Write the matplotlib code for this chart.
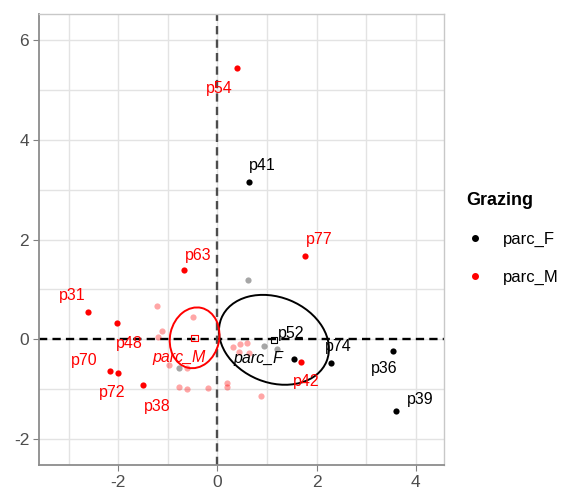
import numpy as np
import matplotlib
matplotlib.use('Agg')
import matplotlib.pyplot as plt
from matplotlib.patches import Ellipse
from matplotlib.lines import Line2D

plt.rcParams['font.family'] = ['Liberation Sans', 'DejaVu Sans']
plt.rcParams['axes.unicode_minus'] = False

# ========== data ==========
groups = ['parc_F', 'parc_M']
colors = {'parc_F': 'black', 'parc_M': '#FF0000'}

# labelled individuals
labels_F = ['p41', 'p52', 'p74', 'p36', 'p39']
x_F = [0.64, 1.55, 2.30, 3.55, 3.60]
y_F = [3.16, -0.40, -0.48, -0.23, -1.43]

labels_M = ['p54', 'p77', 'p63', 'p31', 'p48', 'p70', 'p72', 'p38', 'p42']
x_M = [0.39, 1.76, -0.68, -2.61, -2.02, -2.16, -2.01, -1.50, 1.69]
y_M = [5.43, 1.67, 1.38, 0.54, 0.32, -0.63, -0.67, -0.91, -0.45]

# unlabelled (faded) individuals
xf_F = [0.61, 0.94, 1.21, -0.77]
yf_F = [1.19, -0.14, -0.19, -0.58]
xf_M = [-1.21, -0.50, -1.12, -1.20, -0.98, -0.61, -0.78, -0.62, -0.18,
        0.20, 0.20, 0.87, 0.31, 0.45, 0.59, 0.44, 0.63]
yf_M = [0.66, 0.44, 0.17, 0.05, -0.51, -0.58, -0.95, -0.99, -0.98,
        -0.87, -0.96, -1.13, -0.15, -0.10, -0.08, -0.25, -0.27]

# group means
mean_x = [1.14, -0.46]
mean_y = [-0.01, 0.03]

# concentration ellipses: width, height, angle
ell_w = [2.29, 0.99]
ell_h = [1.71, 1.23]
ell_angle = [-22, -13]

# label offsets in pixels (dx right, dy down)
label_offset = {
    'p41': (13, -16), 'p52': (-3, -26), 'p74': (7, -17), 'p36': (-9, 18),
    'p39': (24, -11), 'p54': (-17, 20), 'p77': (15, -17), 'p63': (15, -15),
    'p31': (-16, -17), 'p48': (12, 20), 'p70': (-26, -10), 'p72': (-6, 20),
    'p38': (14, 22), 'p42': (5, 20),
}
mean_offset = {'parc_F': (-16, 19), 'parc_M': (-16, 20)}

# ========== plot ==========
fig = plt.figure(figsize=(5.70, 4.96), dpi=100)
ax = fig.add_axes([0.0682, 0.0625, 0.710, 0.909])

px = 0.72  # points per pixel at 100 dpi

ax.axhline(0, color='black', ls=(0, (3.5, 2.2)), lw=1.7, zorder=2)
ax.axvline(0, color='#4d4d4d', ls=(0, (3.5, 2.2)), lw=1.7, zorder=2)

data = {
    'parc_F': (labels_F, x_F, y_F, xf_F, yf_F),
    'parc_M': (labels_M, x_M, y_M, xf_M, yf_M),
}

for i, g in enumerate(groups):
    labs, xs, ys, xfs, yfs = data[g]
    c = colors[g]
    ax.scatter(xfs, yfs, s=20, color=c, alpha=0.35, lw=0, zorder=3)
    ax.scatter(xs, ys, s=20, color=c, lw=0, zorder=4)
    for lab, x, y in zip(labs, xs, ys):
        dx, dy = label_offset[lab]
        ax.annotate(lab, (x, y), xytext=(dx * px, -dy * px),
                    textcoords='offset points', ha='center', va='center',
                    color=c, fontsize=11.5, zorder=5)
    ax.add_patch(Ellipse((mean_x[i], mean_y[i]), ell_w[i], ell_h[i],
                         angle=ell_angle[i], fill=False, ec=c, lw=1.4,
                         zorder=4))
    ax.scatter(mean_x[i], mean_y[i], marker='s', s=22, facecolor='none',
               edgecolor=c, lw=0.8, zorder=4)
    dx, dy = mean_offset[g]
    ax.annotate(g, (mean_x[i], mean_y[i]), xytext=(dx * px, -dy * px),
                textcoords='offset points', ha='center', va='center',
                color=c, fontsize=11.5, style='italic', zorder=5)

ax.set_xlim(-3.60, 4.56)
ax.set_ylim(-2.52, 6.52)
ax.set_xticks([-2, 0, 2, 4])
ax.set_yticks([-2, 0, 2, 4, 6])
ax.set_xticks([-3, -1, 1, 3], minor=True)
ax.set_yticks([-1, 1, 3, 5], minor=True)
ax.grid(which='both', color='#E3E3E3', lw=1.0, zorder=0)
ax.set_axisbelow(True)
ax.tick_params(which='major', length=4, color='#808080', labelsize=12.5,
               labelcolor='#4D4D4D', pad=3)
ax.tick_params(which='minor', length=0)
for side in ['left', 'bottom']:
    ax.spines[side].set_color('#8C8C8C')
    ax.spines[side].set_linewidth(1.3)
for side in ['top', 'right']:
    ax.spines[side].set_color('#C8C8C8')
    ax.spines[side].set_linewidth(1.0)

handles = [Line2D([], [], ls='none', marker='o', ms=4, color=colors[g])
           for g in groups]
leg = fig.legend(handles, groups, title='Grazing', loc='upper left',
                 bbox_to_anchor=(458 / 570, 1 - 184 / 496), frameon=False,
                 fontsize=12, title_fontproperties={'weight': 'bold', 'size': 13},
                 handlelength=1.0, handletextpad=1.2, labelspacing=1.35,
                 borderpad=0, alignment='left')

fig.savefig('out.png', dpi=100)
